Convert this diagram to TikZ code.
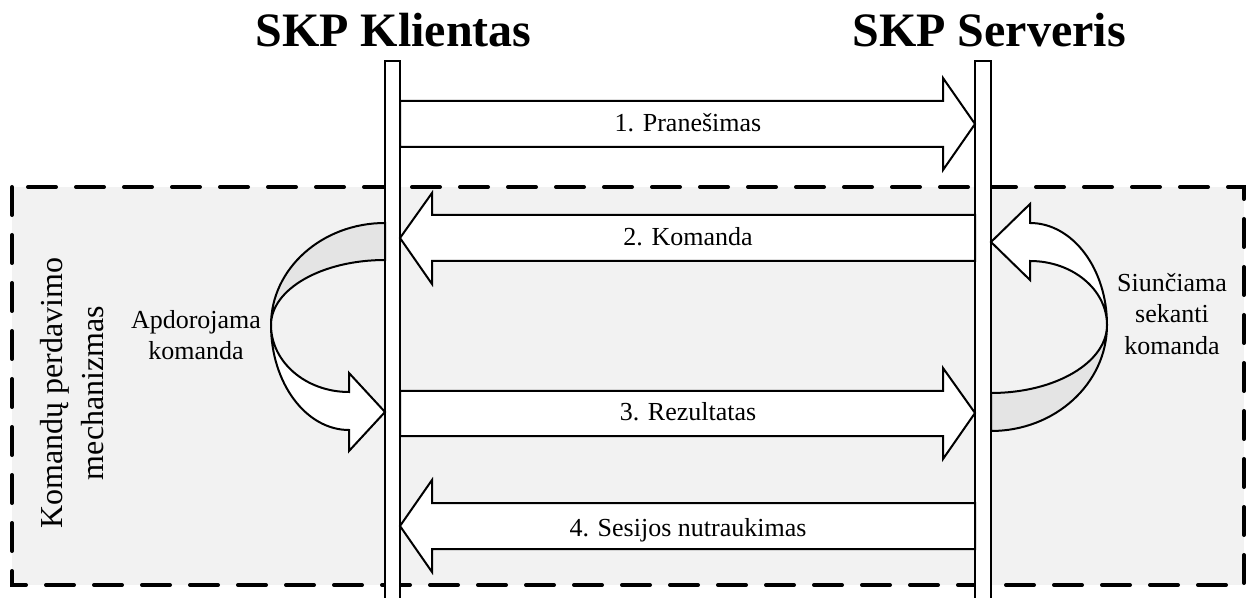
\documentclass[tikz,border=0pt]{standalone}
\usepackage{fontspec}
\setmainfont{Liberation Serif}
\definecolor{skpzone}{HTML}{F2F2F2}
\definecolor{skpback}{HTML}{E4E4E4}

\begin{document}
\begin{tikzpicture}[x=0.5pt,y=-0.5pt,
  zone/.style={draw=black,fill=skpzone,line width=2pt,dash pattern=on 14pt off 10pt,line cap=round},
  lifeline/.style={draw=black,fill=white,line width=1pt},
  blockarrow/.style={draw=black,fill=white,line width=1pt,line join=miter},
  ribbonback/.style={draw=black,fill=skpback,line width=1pt},
  party/.style={font=\fontsize{24}{28}\selectfont\bfseries,anchor=base},
  msg/.style={font=\fontsize{13}{15}\selectfont,anchor=base},
  note/.style={font=\fontsize{13}{15.8}\selectfont,align=center}]
  \useasboundingbox (0,0) rectangle (1247,598);
  % mechanism zone
  \draw[zone] (12,187) rectangle (1244,585);
  \node[note,font=\fontsize{16}{20.5}\selectfont,rotate=90] (mech) at (72,393) {Komandų perdavimo\\mechanizmas};
  % parties and lifelines
  \node[party] (client) at (393.5,47) {SKP Klientas};
  \node[party] (server) at (989,47) {SKP Serveris};
  \draw[lifeline] (385,61) rectangle (400,610);
  \draw[lifeline] (975,61) rectangle (991,610);
  % messages
  \draw[blockarrow] (400,101) -- (943,101) -- (943,78) -- (975,124) -- (943,170) -- (943,147) -- (400,147) -- cycle;
  \draw[blockarrow] (975,215) -- (432,215) -- (432,193) -- (400,238) -- (432,284) -- (432,261) -- (975,261) -- cycle;
  \draw[blockarrow] (400,391) -- (943,391) -- (943,368) -- (975,413) -- (943,459) -- (943,436) -- (400,436) -- cycle;
  \draw[blockarrow] (975,503) -- (432,503) -- (432,480) -- (400,526) -- (432,572) -- (432,549) -- (975,549) -- cycle;
  \node[msg] (m1) at (688,132) {1. Pranešimas};
  \node[msg] (m2) at (688,246) {2. Komanda};
  \node[msg] (m3) at (688,421) {3. Rezultatas};
  \node[msg] (m4) at (688,536) {4. Sesijos nutraukimas};
  % client loop
  \draw[ribbonback] (385,223) arc[start angle=270,end angle=180,x radius=114,y radius=102]
    arc[start angle=180,end angle=270,x radius=114,y radius=65] -- cycle;
  \draw[blockarrow] (271,325) arc[start angle=180,end angle=90,x radius=78,y radius=105]
    -- (349,451) -- (385,412) -- (349,373) -- (349,392)
    arc[start angle=90,end angle=180,x radius=78,y radius=67] -- cycle;
  \node[note] (proc) at (196,335) {Apdorojama\\komanda};
  % server loop
  \draw[blockarrow] (991,242) -- (1030,204) -- (1030,223)
    arc[start angle=270,end angle=360,x radius=77,y radius=102]
    arc[start angle=360,end angle=270,x radius=77,y radius=64] -- (1030,280) -- cycle;
  \draw[ribbonback] (1107,325) arc[start angle=0,end angle=90,x radius=116,y radius=106]
    -- (991,393) arc[start angle=90,end angle=0,x radius=116,y radius=68] -- cycle;
  \node[note] (next) at (1172,314) {Siunčiama\\sekanti\\komanda};
\end{tikzpicture}
\end{document}
